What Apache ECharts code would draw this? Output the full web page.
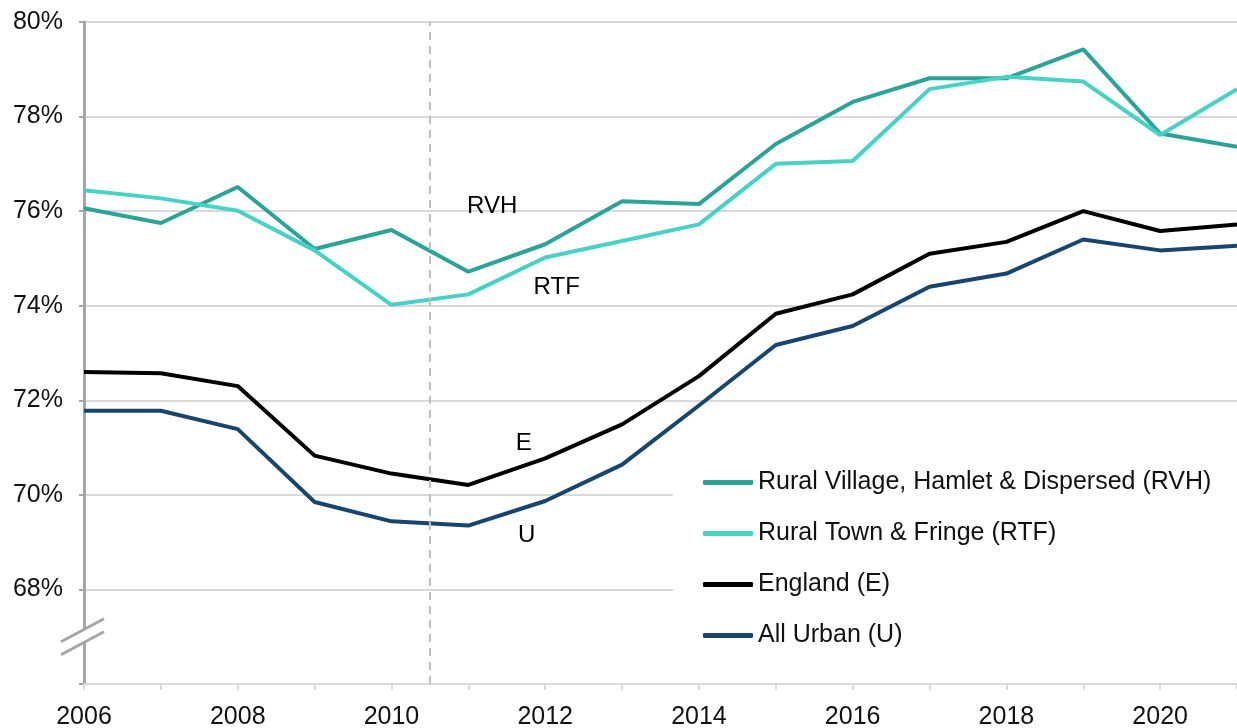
<!DOCTYPE html>
<html lang="en">
<head>
    <meta charset="UTF-8"/>
    <title>Rural and urban rates</title>
    <script src="https://cdn.jsdelivr.net/npm/echarts@6/dist/echarts.min.js"></script>
    <style>
        html, body {margin: 0; padding: 0; background: #fff;}
    </style>
</head>
<body>

<div id="main" style="width: 1237px;height:728px;"></div>

<script type="text/javascript">
    // data
    var years = [2006, 2007, 2008, 2009, 2010, 2011, 2012, 2013, 2014, 2015, 2016, 2017, 2018, 2019, 2020, 2021];
    var rvh = [76.06, 75.75, 76.51, 75.20, 75.60, 74.72, 75.30, 76.21, 76.15, 77.42, 78.31, 78.81, 78.81, 79.42, 77.64, 77.36];
    var rtf = [76.44, 76.27, 76.01, 75.17, 74.02, 74.24, 75.02, 75.37, 75.72, 77.00, 77.06, 78.58, 78.84, 78.74, 77.61, 78.58];
    var england = [72.60, 72.57, 72.30, 70.83, 70.45, 70.21, 70.77, 71.49, 72.51, 73.83, 74.24, 75.10, 75.35, 76.00, 75.58, 75.72];
    var urban = [71.78, 71.78, 71.39, 69.85, 69.44, 69.35, 69.87, 70.64, 71.89, 73.17, 73.57, 74.40, 74.68, 75.40, 75.17, 75.27];
    var names = ['Rural Village, Hamlet & Dispersed (RVH)', 'Rural Town & Fringe (RTF)', 'England (E)', 'All Urban (U)'];
    var shortNames = ['RVH', 'RTF', 'E', 'U'];
    var labelAt = [[2011.31, 76.11], [2012.15, 74.39], [2011.72, 71.09], [2011.76, 69.14]];
    var breakYear = 2010.5;

    function pairs(vals) {
        var out = [];
        for (var i = 0; i < years.length; i++) {
            out.push([years[i], vals[i]]);
        }
        return out;
    }

    var myChart = echarts.init(document.getElementById('main'));

    var font = 'Liberation Sans, Arial, sans-serif';

    option = {
        animation: false,
        textStyle: {fontFamily: font},
        grid: {left: 84, right: 0, top: 22, bottom: 44, outerBoundsMode: 'none'},
        legend: {
            orient: 'vertical',
            left: 673,
            top: 457,
            padding: [13, 30, 30, 30],
            backgroundColor: '#fff',
            itemGap: 26,
            itemWidth: 50,
            itemHeight: 5,
            icon: 'roundRect',
            textStyle: {fontSize: 25, color: '#111', lineHeight: 25, fontFamily: font},
            data: names
        },
        xAxis: {
            type: 'value',
            min: 2006,
            max: 2021,
            interval: 1,
            axisLine: {lineStyle: {color: '#d9d9d9', width: 2}},
            axisTick: {show: true, length: 6, lineStyle: {color: '#d9d9d9', width: 2}},
            splitLine: {show: false},
            axisLabel: {
                fontSize: 25,
                color: '#111',
                margin: 21,
                formatter: function (v) {
                    return (v % 2 === 0) ? String(v) : '';
                }
            }
        },
        yAxis: {
            type: 'value',
            min: 66,
            max: 80,
            interval: 2,
            axisLine: {show: true, onZero: false, lineStyle: {color: '#a6a6a6', width: 3}},
            axisTick: {show: true, length: 5, lineStyle: {color: '#a6a6a6', width: 2}},
            splitLine: {lineStyle: {color: '#d9d9d9', width: 2}},
            axisLabel: {
                fontSize: 25,
                color: '#111',
                margin: 21,
                formatter: function (v) {
                    return v === 66 ? '' : v + '%';
                }
            }
        },
        series: [
            {
                name: names[0], type: 'line', data: pairs(rvh), symbol: 'none',
                color: '#2ba396', lineStyle: {width: 4},
                markLine: {
                    silent: true,
                    symbol: 'none',
                    label: {show: false},
                    lineStyle: {color: '#bfbfbf', type: [8, 6], width: 2},
                    data: [{xAxis: breakYear}]
                }
            },
            {name: names[1], type: 'line', data: pairs(rtf), symbol: 'none', color: '#48d1c5', lineStyle: {width: 4}},
            {name: names[2], type: 'line', data: pairs(england), symbol: 'none', color: '#000000', lineStyle: {width: 4}},
            {name: names[3], type: 'line', data: pairs(urban), symbol: 'none', color: '#17456e', lineStyle: {width: 4}}
        ]
    };

    myChart.setOption(option);

    // short labels next to the lines and the broken-axis mark
    var g = [];
    for (var i = 0; i < shortNames.length; i++) {
        var p = myChart.convertToPixel({gridIndex: 0}, labelAt[i]);
        g.push({
            type: 'text', x: p[0], y: p[1], z: 100,
            style: {text: shortNames[i], fill: '#000', font: '24px ' + font, textAlign: 'center', textVerticalAlign: 'middle'}
        });
    }
    var b = myChart.convertToPixel({gridIndex: 0}, [2006, 67]);
    g.push({
        type: 'polygon', z: 100,
        shape: {points: [[b[0] - 23, b[1] + 5], [b[0] + 20, b[1] - 18], [b[0] + 20, b[1] - 5], [b[0] - 23, b[1] + 18]]},
        style: {fill: '#fff'}
    });
    g.push({
        type: 'line', z: 101,
        shape: {x1: b[0] - 23, y1: b[1] + 5, x2: b[0] + 20, y2: b[1] - 18},
        style: {stroke: '#a6a6a6', lineWidth: 3}
    });
    g.push({
        type: 'line', z: 101,
        shape: {x1: b[0] - 23, y1: b[1] + 18, x2: b[0] + 20, y2: b[1] - 5},
        style: {stroke: '#a6a6a6', lineWidth: 3}
    });
    myChart.setOption({graphic: g});
</script>
</body>
</html>
